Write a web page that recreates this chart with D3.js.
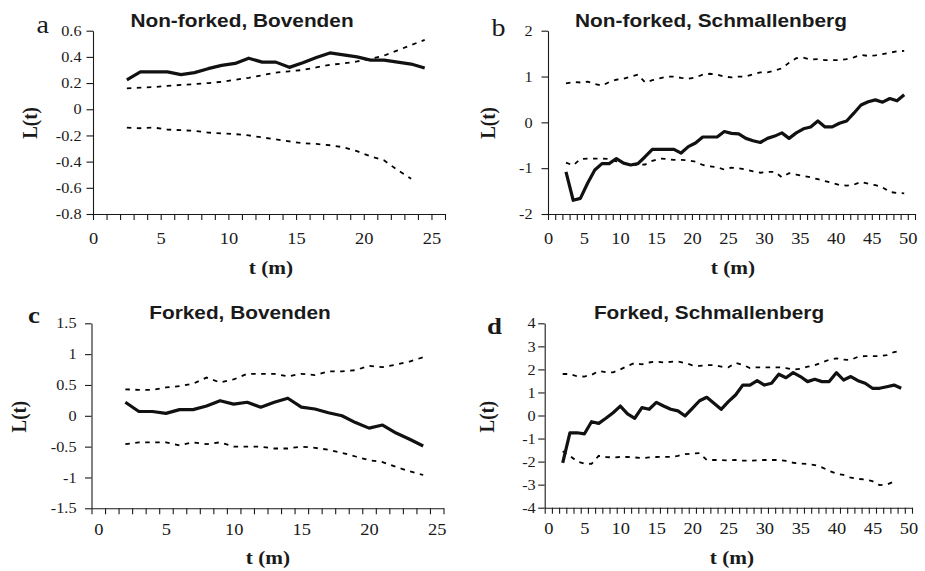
<!DOCTYPE html>
<html>
<head>
<meta charset="utf-8">
<script src="https://cdnjs.cloudflare.com/ajax/libs/d3/7.8.5/d3.min.js"></script>
<style>
	body { margin: 0; background: #fff; }
	svg { display: block; }
	.serif { font-family: "Liberation Serif", "Times New Roman", Times, serif; }
	.sans { font-family: "Liberation Sans", Arial, Helvetica, sans-serif; }
</style>
</head>
<body>
<svg id="chart" width="925" height="571"></svg>
<script>
// distances t (m), one array per panel
var tA = [2.5, 3.5, 4.5, 5.5, 6.5, 7.5, 8.5, 9.5, 10.5, 11.5, 12.5, 13.5, 14.5, 15.5, 16.5, 17.5, 18.5, 19.5, 20.5, 21.5, 22.5, 23.5, 24.5];
var tB = [2.5, 3.5, 4.5, 5.5, 6.5, 7.5, 8.5, 9.5, 10.5, 11.5, 12.5, 13.5, 14.5, 15.5, 16.5, 17.5, 18.5, 19.5, 20.5, 21.5, 22.5, 23.5, 24.5, 25.5,
	26.5, 27.5, 28.5, 29.5, 30.5, 31.5, 32.5, 33.5, 34.5, 35.5, 36.5, 37.5, 38.5, 39.5, 40.5, 41.5, 42.5, 43.5, 44.5, 45.5, 46.5, 47.5, 48.5, 49.5];
var tC = [2, 3, 4, 5, 6, 7, 8, 9, 10, 11, 12, 13, 14, 15, 16, 17, 18, 19, 20, 21, 22, 23, 24];
var tD = [2, 3, 4, 5, 6, 7, 8, 9, 10, 11, 12, 13, 14, 15, 16, 17, 18, 19, 20, 21, 22, 23, 24, 25,
	26, 27, 28, 29, 30, 31, 32, 33, 34, 35, 36, 37, 38, 39, 40, 41, 42, 43, 44, 45, 46, 47, 48, 49];

// L(t) observed (solid) and envelope (dashed)
var solidA = [0.225, 0.285, 0.285, 0.285, 0.265, 0.28, 0.31, 0.335, 0.35, 0.39, 0.36, 0.36, 0.32, 0.355, 0.395, 0.43, 0.415, 0.4, 0.375, 0.375, 0.36, 0.345, 0.315];
var upperA = [0.16, 0.165, 0.17, 0.178, 0.186, 0.192, 0.2, 0.21, 0.225, 0.24, 0.26, 0.28, 0.29, 0.3, 0.32, 0.34, 0.35, 0.365, 0.385, 0.41, 0.45, 0.49, 0.53];
var lowerA = [-0.14, -0.145, -0.14, -0.155, -0.16, -0.165, -0.178, -0.185, -0.19, -0.2, -0.215, -0.23, -0.245, -0.26, -0.265, -0.275, -0.29, -0.32, -0.36, -0.39, -0.465, -0.53];

var solidB = [-1.08, -1.7, -1.66, -1.33, -1.04, -0.9, -0.9, -0.79, -0.89, -0.93,
	-0.9, -0.75, -0.59, -0.59, -0.59, -0.59, -0.67, -0.53, -0.45, -0.32,
	-0.32, -0.32, -0.2, -0.24, -0.25, -0.35, -0.4, -0.44, -0.35, -0.3,
	-0.23, -0.35, -0.23, -0.14, -0.1, 0.03, -0.1, -0.1, -0.02, 0.03,
	0.2, 0.38, 0.45, 0.49, 0.44, 0.52, 0.47, 0.6];
var upperB = [0.85, 0.88, 0.87, 0.89, 0.84, 0.8, 0.88, 0.93, 0.95, 1.0,
	1.04, 0.87, 0.92, 0.96, 1.0, 1.0, 0.97, 0.95, 0.98, 1.04,
	1.06, 1.04, 1.0, 0.98, 1.0, 1.0, 1.05, 1.09, 1.09, 1.13,
	1.18, 1.3, 1.4, 1.41, 1.37, 1.38, 1.36, 1.36, 1.36, 1.38,
	1.42, 1.47, 1.45, 1.46, 1.49, 1.52, 1.55, 1.56];
var lowerB = [-0.88, -0.94, -0.8, -0.79, -0.79, -0.79, -0.8, -0.85, -0.89, -0.92,
	-0.93, -0.92, -0.84, -0.79, -0.8, -0.82, -0.82, -0.83, -0.86, -0.93,
	-0.96, -0.98, -1.03, -0.99, -1.0, -1.03, -1.07, -1.1, -1.08, -1.08,
	-1.2, -1.11, -1.14, -1.17, -1.2, -1.24, -1.28, -1.32, -1.37, -1.38,
	-1.36, -1.3, -1.34, -1.37, -1.42, -1.52, -1.54, -1.55];

var solidC = [0.22, 0.07, 0.07, 0.04, 0.1, 0.1, 0.16, 0.245, 0.19, 0.22, 0.14, 0.22, 0.285, 0.14, 0.11, 0.05, 0.0, -0.11, -0.2, -0.15, -0.28, -0.38, -0.49];
var upperC = [0.43, 0.42, 0.42, 0.46, 0.48, 0.52, 0.62, 0.54, 0.59, 0.68, 0.68, 0.68, 0.64, 0.68, 0.66, 0.72, 0.72, 0.74, 0.81, 0.79, 0.83, 0.88, 0.95];
var lowerC = [-0.46, -0.43, -0.43, -0.43, -0.48, -0.43, -0.46, -0.43, -0.5, -0.5, -0.5, -0.53, -0.53, -0.5, -0.52, -0.55, -0.6, -0.66, -0.72, -0.75, -0.83, -0.9, -0.96];

var solidD = [-2.05, -0.75, -0.75, -0.8, -0.27, -0.34, -0.12, 0.12, 0.41, 0.07,
	-0.12, 0.34, 0.27, 0.57, 0.41, 0.27, 0.2, -0.02, 0.31, 0.64,
	0.79, 0.53, 0.27, 0.6, 0.89, 1.32, 1.32, 1.51, 1.32, 1.4,
	1.79, 1.64, 1.86, 1.69, 1.47, 1.57, 1.47, 1.47, 1.86, 1.54,
	1.69, 1.51, 1.4, 1.18, 1.18, 1.25, 1.32, 1.18];
var upperD = [1.8, 1.8, 1.7, 1.69, 1.76, 1.93, 1.88, 1.87, 2.0, 2.15,
	2.28, 2.22, 2.3, 2.34, 2.3, 2.33, 2.34, 2.28, 2.18, 2.15,
	2.18, 2.19, 2.12, 2.09, 2.28, 2.2, 2.06, 2.09, 2.09, 2.09,
	2.09, 2.06, 1.99, 2.03, 2.12, 2.18, 2.3, 2.42, 2.48, 2.42,
	2.41, 2.55, 2.58, 2.58, 2.58, 2.62, 2.75, 2.82];
var lowerD = [-1.55, -1.75, -2.0, -2.08, -2.1, -1.75, -1.8, -1.82, -1.8, -1.8,
	-1.82, -1.85, -1.82, -1.8, -1.79, -1.8, -1.75, -1.68, -1.65, -1.63,
	-1.93, -1.93, -1.93, -1.95, -1.93, -1.96, -1.96, -1.95, -1.93, -1.93,
	-1.93, -1.97, -2.05, -2.08, -2.1, -2.15, -2.25, -2.4, -2.52, -2.58,
	-2.7, -2.75, -2.78, -2.85, -3.02, -3.0, -2.87];

// tick labels
var xLabels25 = [0, 5, 10, 15, 20, 25];
var xLabels50 = [0, 5, 10, 15, 20, 25, 30, 35, 40, 45, 50];
var yTicksA = [0.6, 0.4, 0.2, 0, -0.2, -0.4, -0.6, -0.8];
var yTicksB = [2, 1, 0, -1, -2];
var yTicksC = [1.5, 1, 0.5, 0, -0.5, -1, -1.5];
var yTicksD = [4, 3, 2, 1, 0, -1, -2, -3, -4];

var titles = ["Non-forked, Bovenden", "Non-forked, Schmallenberg", "Forked, Bovenden", "Forked, Schmallenberg"];
var letters = ["a", "b", "c", "d"];

var SX = 1.12; // the source figure is stretched horizontally
var INK = "#1a1a1a";

var panels = [
	{t: tA, solid: solidA, upper: upperA, lower: lowerA, xDomain: [0, 26], xRange: [93, 445], marks: d3.range(0, 27),
		xLabels: xLabels25, yDomain: [-0.8, 0.6], yRange: [214, 30.7], yTicks: yTicksA, yPad: 5, xPad: 12.5,
		letter: {x: 36.5, y: 32.7, bold: false}, title: {x: 242, y: 26.7}, xt: {x: 271, y: 274}, yt: {x: 36.5, y: 123}},
	{t: tB, solid: solidB, upper: upperB, lower: lowerB, xDomain: [0, 51], xRange: [548, 915], marks: d3.range(0, 52),
		xLabels: xLabels50, yDomain: [-2, 2], yRange: [214, 30.7], yTicks: yTicksB, yPad: 9, xPad: 12.5,
		letter: {x: 491.5, y: 36, bold: false}, title: {x: 711, y: 26.7}, xt: {x: 733, y: 274}, yt: {x: 494.5, y: 123}},
	{t: tC, solid: solidC, upper: upperC, lower: lowerC, xDomain: [-0.5, 25.5], xRange: [91.5, 443.5], marks: d3.range(-0.5, 26, 1),
		xLabels: xLabels25, yDomain: [-1.5, 1.5], yRange: [508.3, 323.3], yTicks: yTicksC, yPad: 8.5, xPad: 8.5,
		letter: {x: 28, y: 322.5, bold: true}, title: {x: 240, y: 319.3}, xt: {x: 268, y: 564}, yt: {x: 26, y: 416.7}},
	{t: tD, solid: solidD, upper: upperD, lower: lowerD, xDomain: [-0.5, 50.5], xRange: [544.7, 912], marks: d3.range(-0.5, 51, 1),
		xLabels: xLabels50, yDomain: [-4, 4], yRange: [507.7, 323.3], yTicks: yTicksD, yPad: 2.5, xPad: 8.5,
		letter: {x: 487, y: 334.3, bold: true}, title: {x: 709, y: 319.3}, xt: {x: 732, y: 564}, yt: {x: 493.5, y: 416.7}}
];

var svg = d3.select("#chart");

function fmt(d) {
	return String(+d.toFixed(2));
}

// stretched text helper
function label(g, x, y, text, size, cls, weight, anchor, rotate) {
	return g.append("text")
		.attr("class", cls)
		.attr("transform", "translate(" + x + "," + y + ") scale(" + SX + ",1)" + (rotate ? " rotate(-90)" : ""))
		.attr("text-anchor", anchor)
		.style("font-weight", weight)
		.style("font-size", size + "px")
		.attr("fill", INK)
		.text(text);
}

function drawPanel(p, i) {
	var x = d3.scaleLinear().domain(p.xDomain).range(p.xRange);
	var y = d3.scaleLinear().domain(p.yDomain).range(p.yRange);
	var g = svg.append("g");

	//y axis
	var gy = g.append("g")
		.attr("transform", "translate(" + p.xRange[0] + ",0)")
		.call(d3.axisLeft(y).tickValues(p.yTicks).tickSize(6.5).tickSizeOuter(0).tickPadding(p.yPad).tickFormat(fmt));
	gy.attr("font-family", null).attr("font-size", null);
	gy.selectAll("text")
		.attr("class", "serif")
		.style("font-size", "14.5px")
		.attr("fill", INK)
		.attr("x", -(6.5 + p.yPad) / SX)
		.attr("transform", "scale(" + SX + ",1)");

	//x axis tick marks
	g.append("g")
		.attr("transform", "translate(0," + p.yRange[0] + ")")
		.call(d3.axisBottom(x).tickValues(p.marks).tickSize(6).tickSizeOuter(0).tickFormat(""));

	//x axis labels
	var gl = g.append("g")
		.attr("transform", "translate(0," + p.yRange[0] + ")")
		.call(d3.axisBottom(x).tickValues(p.xLabels).tickSize(0).tickPadding(6 + p.xPad).tickFormat(fmt));
	gl.attr("font-family", null).attr("font-size", null);
	gl.select(".domain").remove();
	gl.selectAll("text")
		.attr("class", "serif")
		.style("font-size", "16.5px")
		.attr("fill", INK)
		.attr("transform", "scale(" + SX + ",1)");

	g.selectAll(".domain, .tick line").attr("stroke", INK).attr("stroke-width", 1.1);

	var line = d3.line()
		.x(function (d, k) { return x(p.t[k]); })
		.y(function (d) { return y(d); });

	[p.upper, p.lower].forEach(function (s) {
		g.append("path")
			.attr("d", line(s))
			.attr("fill", "none")
			.attr("stroke", "#000")
			.attr("stroke-width", 1.8)
			.attr("stroke-dasharray", "4.5,5.5");
	});

	g.append("path")
		.attr("d", line(p.solid))
		.attr("fill", "none")
		.attr("stroke", "#111")
		.attr("stroke-width", 3.2)
		.attr("stroke-linejoin", "round");

	label(g, p.title.x, p.title.y, titles[i], 18.6, "sans", "bold", "middle");
	label(g, p.letter.x, p.letter.y, letters[i], p.letter.bold ? 24 : 25, "serif", p.letter.bold ? "bold" : "normal", "start");
	label(g, p.xt.x, p.xt.y, "t (m)", 19, "serif", "bold", "middle");
	label(g, p.yt.x, p.yt.y, "L(t)", 19, "serif", "bold", "middle", true);
}

panels.forEach(drawPanel);
</script>
</body>
</html>
